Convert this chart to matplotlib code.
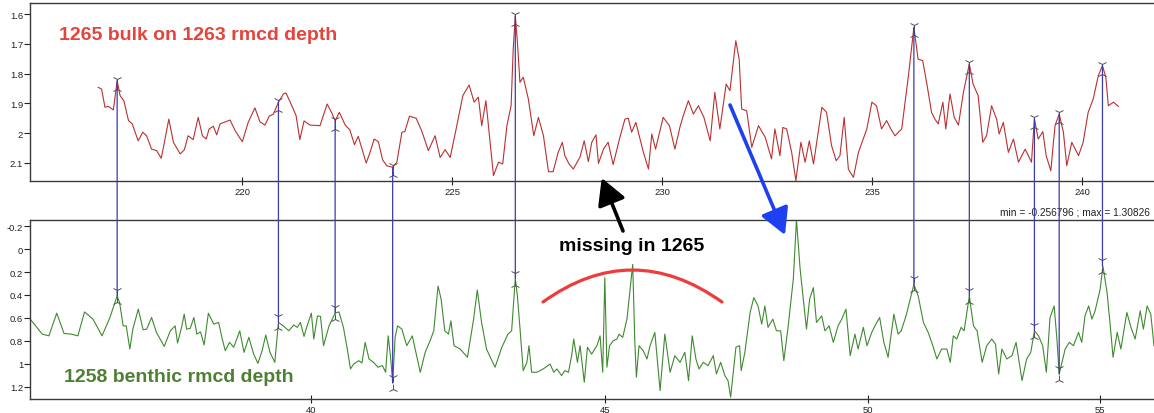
"""Corrélation 1265 (bulk) / 1258 (benthique) : deux courbes reliées par des points d'attache."""

import numpy as np
import matplotlib
matplotlib.use("Agg")
import matplotlib.pyplot as plt
from matplotlib.patches import ConnectionPatch, PathPatch
from matplotlib.path import Path
from matplotlib.transforms import offset_copy

plt.rcParams["font.family"] = ["Liberation Sans", "DejaVu Sans"]

# --- 1265 bulk, profondeur rmcd 1263 ---
DEPTH_1265 = [
    216.57, 216.65, 216.73, 216.81, 216.93, 217.02, 217.09, 217.18, 217.29, 217.38,
    217.52, 217.63, 217.72, 217.84, 217.96, 218.07, 218.16, 218.25, 218.36, 218.52,
    218.62, 218.71, 218.83, 218.95, 219.05, 219.14, 219.21, 219.31, 219.39, 219.47,
    219.56, 219.71, 219.83, 220.00, 220.14, 220.30, 220.42, 220.54, 220.64, 220.74,
    220.86, 220.98, 221.04, 221.18, 221.28, 221.37, 221.47, 221.61, 221.85, 222.02,
    222.13, 222.21, 222.31, 222.45, 222.56, 222.67, 222.76, 222.95, 223.04, 223.14,
    223.24, 223.34, 223.44, 223.58, 223.68, 223.80, 223.87, 223.98, 224.14, 224.27,
    224.43, 224.59, 224.71, 224.83, 224.95, 225.10, 225.25, 225.40, 225.52, 225.62,
    225.70, 225.80, 225.90, 225.98, 226.10, 226.20, 226.30, 226.40, 226.45, 226.50,
    226.55, 226.61, 226.69, 226.81, 226.94, 227.05, 227.17, 227.29, 227.40, 227.52,
    227.62, 227.68, 227.78, 227.88, 228.04, 228.14, 228.24, 228.32, 228.42, 228.48,
    228.60, 228.71, 228.83, 228.98, 229.11, 229.19, 229.27, 229.37, 229.55, 229.67,
    229.75, 229.84, 230.02, 230.17, 230.30, 230.42, 230.50, 230.62, 230.74, 230.86,
    230.99, 231.14, 231.25, 231.37, 231.52, 231.61, 231.75, 231.83, 231.89, 232.01,
    232.13, 232.29,
    232.45, 232.60, 232.68, 232.80, 232.87, 232.96, 233.08, 233.18, 233.30, 233.40,
    233.50, 233.60, 233.80, 233.91, 234.03, 234.14, 234.23, 234.33, 234.43, 234.55,
    234.67, 234.87, 234.99, 235.10, 235.22, 235.34, 235.44, 235.54, 235.70, 235.86,
    235.99, 236.09, 236.20, 236.30, 236.41, 236.49, 236.57, 236.68, 236.75, 236.85,
    236.95, 237.05, 237.17, 237.31, 237.40, 237.52, 237.63, 237.72, 237.84, 237.96,
    238.02, 238.12, 238.24, 238.36, 238.48, 238.64, 238.79, 238.86, 238.95, 239.06,
    239.14, 239.25, 239.35, 239.45, 239.55, 239.63, 239.75, 239.91, 240.02, 240.14,
    240.26, 240.38, 240.48, 240.56, 240.62, 240.74, 240.86,
]
BULK_1265 = [
    1.846, 1.852, 1.913, 1.910, 1.922, 1.824, 1.874, 1.891, 1.958, 1.969,
    2.026, 1.997, 2.009, 2.054, 2.059, 2.085, 2.020, 1.953, 2.031, 2.070,
    2.056, 2.009, 2.022, 1.947, 2.009, 2.020, 1.986, 1.977, 2.006, 1.969,
    1.964, 1.956, 1.992, 2.029, 1.964, 1.915, 1.962, 1.973, 1.943, 1.936,
    1.896, 1.868, 1.865, 1.908, 1.941, 2.022, 1.959, 1.973, 1.975, 1.902,
    1.932, 1.958, 1.930, 1.973, 1.989, 2.039, 2.011, 2.101, 2.065, 2.020,
    2.029, 2.090, 2.110, 2.115, 2.098, 1.997, 1.995, 1.943, 1.950, 1.992,
    2.059, 2.009, 2.082, 2.056, 2.082, 1.980, 1.874, 1.838, 1.896, 1.879,
    1.975, 1.891, 2.031, 2.143, 2.098, 2.104, 1.975, 1.908, 1.717, 1.605,
    1.694, 1.829, 1.812, 1.885, 2.009, 1.947, 2.009, 2.130, 2.130, 2.065,
    2.031, 2.076, 2.104, 2.121, 2.081, 2.026, 2.096, 2.031, 2.006, 2.102,
    2.054, 2.031, 2.106, 2.020, 1.953, 1.950, 1.997, 1.964, 2.065, 2.121,
    2.003, 2.054, 1.947, 1.975, 2.054, 1.980, 1.941, 1.891, 1.936, 1.908,
    1.947, 2.026, 1.863, 1.986, 1.835, 1.857, 1.689, 1.751, 1.919, 1.925,
    2.048, 1.975,
    2.014, 2.087, 1.986, 2.076, 1.981, 1.986, 2.065, 2.160, 2.031, 2.098,
    2.026, 2.104, 1.913, 1.930, 2.042, 2.093, 2.076, 1.947, 2.121, 2.149,
    2.065, 1.986, 1.896, 1.908, 1.986, 1.958, 1.986, 2.009, 1.986, 1.807,
    1.644, 1.751, 1.756, 1.835, 1.930, 1.953, 1.969, 1.896, 1.986, 1.868,
    1.947, 1.973, 1.863, 1.767, 1.835, 1.874, 2.031, 2.009, 1.908, 1.953,
    2.003, 1.964, 2.065, 2.020, 2.098, 2.054, 2.098, 1.952, 2.020, 1.995,
    2.076, 2.127, 1.975, 1.936, 1.997, 2.110, 2.031, 2.076, 2.031, 1.930,
    1.885, 1.807, 1.773, 1.812, 1.908, 1.896, 1.910,
]

# --- 1258 benthique, profondeur rmcd ---
DEPTH_1258 = [
    35.35, 35.45, 35.56, 35.67, 35.80, 35.92, 36.04, 36.15, 36.26, 36.40,
    36.55, 36.68, 36.80, 36.84, 36.90, 36.95, 37.01, 37.06, 37.15, 37.23,
    37.29, 37.37, 37.45, 37.58, 37.68, 37.76, 37.80, 37.87, 37.91, 37.95,
    38.01, 38.07, 38.12, 38.18, 38.24, 38.31, 38.40, 38.48, 38.54, 38.59,
    38.66, 38.73, 38.83, 38.90, 38.98, 39.06, 39.13, 39.20, 39.26, 39.33,
    39.41, 39.47,
    39.55, 39.64, 39.72, 39.78, 39.83, 39.89, 39.94, 40.01, 40.05, 40.11,
    40.16, 40.21, 40.30,
    40.40, 40.46, 40.53, 40.59, 40.64, 40.69, 40.77, 40.82, 40.87, 40.93,
    41.00, 41.07, 41.14, 41.19, 41.23, 41.27, 41.30,
    41.34, 41.38, 41.45, 41.53, 41.62, 41.69, 41.75, 41.83, 41.91, 41.97,
    42.04, 42.09, 42.15, 42.21, 42.25, 42.30, 42.40, 42.52, 42.62, 42.68,
    42.75, 42.83, 42.97, 43.08, 43.18, 43.24, 43.30,
    43.34, 43.39, 43.45, 43.52, 43.56, 43.61, 43.71, 43.83, 43.96, 44.03,
    44.09, 44.18, 44.24, 44.31, 44.37, 44.41, 44.48, 44.53, 44.61, 44.67,
    44.75, 44.85, 44.91, 44.96, 45.00, 45.04, 45.09, 45.16, 45.23, 45.27,
    45.34, 45.42, 45.48, 45.53, 45.57, 45.60, 45.65, 45.73, 45.80, 45.86,
    45.95, 46.05, 46.14, 46.24, 46.33, 46.43, 46.52, 46.59, 46.66, 46.73,
    46.79, 46.87, 46.96, 47.06, 47.12, 47.20, 47.28, 47.34, 47.39, 47.44,
    47.49, 47.56, 47.59, 47.66, 47.76, 47.83, 47.91, 47.98, 48.04, 48.10,
    48.19, 48.26, 48.34, 48.40, 48.48, 48.58, 48.64, 48.71, 48.83, 48.89,
    48.96, 49.02, 49.12, 49.18, 49.26, 49.34, 49.43, 49.50, 49.58, 49.66,
    49.75, 49.81, 49.91, 49.98, 50.07, 50.13, 50.22, 50.30, 50.38, 50.49,
    50.57, 50.63, 50.73, 50.87,
    50.97, 51.09, 51.20, 51.32, 51.40, 51.51, 51.63, 51.71, 51.78, 51.86,
    51.96, 52.03, 52.15,
    52.24, 52.32, 52.43, 52.53, 52.64, 52.72, 52.79, 52.86, 52.97, 53.08,
    53.17, 53.30, 53.40, 53.49, 53.57,
    53.66, 53.75, 53.83, 53.91, 54.00, 54.06, 54.11,
    54.17, 54.24, 54.33, 54.42, 54.53, 54.60, 54.67, 54.75, 54.82, 54.89,
    55.00, 55.06, 55.15, 55.22, 55.28, 55.37, 55.45, 55.58, 55.67, 55.76,
    55.87, 55.94, 56.02, 56.10, 56.17,
]
BENTHIC_1258 = [
    0.603, 0.670, 0.742, 0.757, 0.559, 0.736, 0.742, 0.757, 0.548, 0.611,
    0.757, 0.597, 0.409, 0.466, 0.670, 0.670, 0.872, 0.698, 0.524, 0.704,
    0.698, 0.597, 0.727, 0.849, 0.713, 0.670, 0.820, 0.675, 0.568, 0.698,
    0.692, 0.597, 0.742, 0.722, 0.837, 0.559, 0.655, 0.640, 0.785, 0.887,
    0.814, 0.857, 0.713, 0.901, 0.770, 0.916, 0.997, 0.887, 0.750, 0.901,
    0.988, 0.640,
    0.670, 0.713, 0.663, 0.683, 0.640, 0.762, 0.670, 0.559, 0.785, 0.583,
    0.588, 0.843, 0.670,
    0.559, 0.548, 0.683, 0.872, 1.046, 1.003, 0.974, 0.994, 0.814, 0.959,
    0.988, 1.031, 1.017, 1.075, 0.757, 0.959, 1.168,
    0.770, 0.670, 0.698, 0.843, 0.757, 0.930, 1.075, 0.901, 0.800, 0.713,
    0.322, 0.437, 0.713, 0.742, 0.626, 0.843, 0.872, 0.944, 0.611, 0.357,
    0.640, 0.872, 1.031, 0.857, 0.742, 0.713, 0.257,
    0.409, 0.698, 1.061, 0.988, 0.843, 1.075, 1.075, 1.046, 1.003, 1.075,
    1.046, 1.104, 1.061, 1.075, 0.930, 0.785, 0.988, 0.843, 1.162, 0.857,
    0.916, 0.843, 0.757, 1.075, 0.249, 1.031, 0.843, 0.800, 0.785, 0.742,
    0.770, 0.611, 0.350, 0.133, 0.814, 1.118, 0.843, 0.887, 0.959, 0.843,
    0.727, 1.235, 0.742, 1.075, 0.930, 0.988, 0.901, 1.148, 0.757, 0.959,
    1.046, 0.988, 1.017, 0.930, 1.090, 0.988, 1.104, 1.148, 1.292, 1.075,
    0.857, 0.843, 1.061, 0.901, 0.553, 0.423, 0.496, 0.655, 0.496, 0.683,
    0.611, 0.713, 0.713, 0.974, 0.683, 0.263, -0.257, 0.177, 0.698, 0.437,
    0.336, 0.640, 0.583, 0.713, 0.670, 0.814, 0.670, 0.611, 0.524, 0.930,
    0.742, 0.872, 0.683, 0.843, 0.727, 0.670, 0.597, 0.814, 0.944, 0.568,
    0.742, 0.713, 0.568, 0.307,
    0.409, 0.640, 0.727, 0.857, 0.959, 0.872, 0.872, 0.988, 0.757, 0.785,
    0.683, 0.713, 0.409,
    0.670, 0.713, 0.988, 0.843, 0.785, 0.829, 1.090, 0.872, 0.959, 0.930,
    0.814, 1.148, 0.959, 0.901, 0.713,
    0.757, 0.843, 1.075, 0.597, 0.496, 0.785, 1.090,
    0.988, 0.872, 0.814, 0.843, 0.727, 0.814, 0.583, 0.496, 0.611, 0.539,
    0.350, 0.148, 0.379, 0.670, 0.944, 0.727, 0.872, 0.553, 0.683, 0.785,
    0.539, 0.698, 0.496, 0.568, 0.843,
]

# --- points d'attache (profondeur 1265 <-> profondeur 1258) ---
TIE_1265 = [217.02, 220.86, 222.21, 223.58, 226.50, 235.99, 237.31, 238.86, 239.45, 240.48]
TIE_1258 = [36.80, 39.47, 40.40, 41.30, 43.30, 50.87, 52.15, 53.57, 54.11, 55.05]
TIE_BULK = [1.824, 1.896, 1.958, 2.115, 1.605, 1.644, 1.767, 1.952, 1.936, 1.773]
TIE_BENTHIC = [0.409, 0.640, 0.559, 1.168, 0.257, 0.307, 0.409, 0.713, 1.090, 0.148]

XLIM_1265 = (214.945, 241.85)
YLIM_1265 = (2.1613, 1.562)
YLIM_1258 = (1.30826, -0.256796)


def _interp_ext(x, xp, fp):
    """Interpolation linéaire avec extrapolation sur les segments extrêmes."""
    x = np.asarray(x, dtype=float)
    out = np.interp(x, xp, fp)
    lo = (fp[1] - fp[0]) / (xp[1] - xp[0])
    hi = (fp[-1] - fp[-2]) / (xp[-1] - xp[-2])
    out = np.where(x < xp[0], fp[0] + (x - xp[0]) * lo, out)
    out = np.where(x > xp[-1], fp[-1] + (x - xp[-1]) * hi, out)
    return out


def to_1265(d):
    return _interp_ext(d, TIE_1258, TIE_1265)


def to_1258(d):
    return _interp_ext(d, TIE_1265, TIE_1258)


W, H = 1154, 414
fig = plt.figure(figsize=(W / 100, H / 100), dpi=100)


def ff(x, y):
    # position en pixels image -> fraction de figure
    return x / W, 1 - y / H


ax_top = fig.add_axes([30 / W, 1 - 182 / H, 1130 / W, 178 / H])
ax_bot = fig.add_axes([30 / W, 1 - 400 / H, 1130 / W, 179.3 / H])

ax_top.plot(DEPTH_1265, BULK_1265, color="#bb3030", lw=0.8)
ax_top.set_xlim(*XLIM_1265)
ax_top.set_ylim(*YLIM_1265)
ax_top.set_xticks([220, 225, 230, 235, 240])
ax_top.set_yticks([1.6, 1.7, 1.8, 1.9, 2.0, 2.1])

# l'échelle du bas suit la profondeur 1265 via les points d'attache
ax_bot.set_xscale("function", functions=(to_1265, to_1258))
ax_bot.plot(DEPTH_1258, BENTHIC_1258, color="#3f8a30", lw=0.8)
ax_bot.set_xlim(float(to_1258(XLIM_1265[0])), float(to_1258(XLIM_1265[1])))
ax_bot.set_ylim(*YLIM_1258)
ax_bot.set_xticks([40, 45, 50, 55])
ax_bot.set_yticks([-0.2, 0, 0.2, 0.4, 0.6, 0.8, 1.0, 1.2])

for ax in (ax_top, ax_bot):
    ax.spines["right"].set_visible(False)
    for side in ("left", "top", "bottom"):
        ax.spines[side].set_color("#3a3a3a")
        ax.spines[side].set_linewidth(1.0)
    ax.tick_params(axis="x", direction="inout", length=6, width=0.8,
                   labelsize=6.8, pad=1, colors="#222222")
    ax.tick_params(axis="y", direction="out", length=4, width=0.8,
                   labelsize=6.8, pad=1, colors="#222222")
    ax.xaxis.set_major_formatter(plt.FuncFormatter(lambda v, p: f"{v:g}"))
    ax.yaxis.set_major_formatter(plt.FuncFormatter(lambda v, p: f"{v:g}"))
    ax.xaxis.set_minor_locator(plt.NullLocator())

# liens entre les points d'attache
for xa, ya, xb, yb in zip(TIE_1265, TIE_BULK, TIE_1258, TIE_BENTHIC):
    con = ConnectionPatch(xyA=(xa, ya), coordsA=ax_top.transData,
                          xyB=(xb, yb), coordsB=ax_bot.transData,
                          color="#3b3bb0", lw=0.9, zorder=5)
    fig.add_artist(con)

mk = dict(ls="none", ms=7, mew=0.7, color="#505050", clip_on=False, zorder=6)
ax_top.plot(TIE_1265, TIE_BULK, marker="1",
            transform=offset_copy(ax_top.transData, fig=fig, y=2, units="dots"), **mk)
ax_top.plot(TIE_1265, TIE_BULK, marker="2",
            transform=offset_copy(ax_top.transData, fig=fig, y=-8, units="dots"), **mk)
ax_bot.plot(TIE_1258, TIE_BENTHIC, marker="1",
            transform=offset_copy(ax_bot.transData, fig=fig, y=6, units="dots"), **mk)
ax_bot.plot(TIE_1258, TIE_BENTHIC, marker="2",
            transform=offset_copy(ax_bot.transData, fig=fig, y=-6, units="dots"), **mk)

# textes
fig.text(*ff(59, 35), "1265 bulk on 1263 rmcd depth", color="#e5443c",
         fontsize=14, fontweight="bold", va="center", ha="left")
fig.text(*ff(64, 378), "1258 benthic rmcd depth", color="#4e8034",
         fontsize=14, fontweight="bold", va="center", ha="left")
fig.text(*ff(632, 247), "missing in 1265", color="black",
         fontsize=14, fontweight="bold", va="center", ha="center")
fig.text(*ff(1150, 213), "min = -0.256796 ; max = 1.30826", color="#222222",
         fontsize=7.3, va="center", ha="right")

# flèches
arrow_style = "-|>,head_length=1.0,head_width=0.55"
ax_bot.annotate("", xy=ff(601.7, 179), xytext=ff(623, 232),
                xycoords="figure fraction", textcoords="figure fraction",
                annotation_clip=False,
                arrowprops=dict(arrowstyle=arrow_style, mutation_scale=16,
                                lw=2.6, color="black", shrinkA=0, shrinkB=0))
ax_bot.annotate("", xy=ff(785, 236), xytext=ff(730, 106),
                xycoords="figure fraction", textcoords="figure fraction",
                annotation_clip=False,
                arrowprops=dict(arrowstyle=arrow_style, mutation_scale=16,
                                lw=2.6, color="#1f40f0", shrinkA=0, shrinkB=0))

# arc rouge au-dessus de la zone absente
arc = Path([ff(543, 303), ff(632, 239), ff(722, 303)],
           [Path.MOVETO, Path.CURVE3, Path.CURVE3])
fig.add_artist(PathPatch(arc, transform=fig.transFigure, fill=False,
                         edgecolor="#ee3b3b", lw=2.3, capstyle="round"))

fig.savefig("out.png", dpi=100)
